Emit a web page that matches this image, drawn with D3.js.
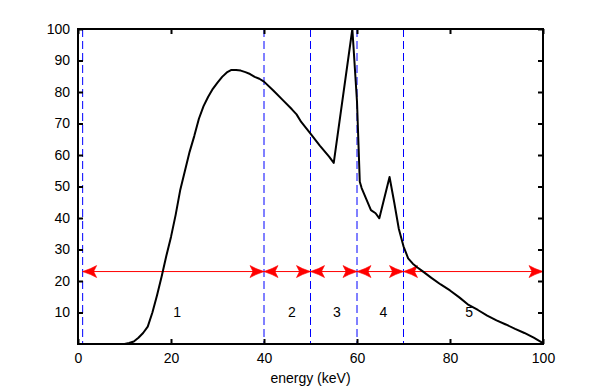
<!DOCTYPE html>
<html>
<head>
<meta charset="utf-8">
<script src="https://cdn.jsdelivr.net/npm/d3@7"></script>
<style>
  body { margin: 0; background: #fff; }
  text { font-family: "Liberation Sans", Arial, sans-serif; font-size: 14px; fill: #000; }
</style>
</head>
<body>
<div id="chart"></div>
<script>
// spectrum
const energy = [10, 11, 12, 13, 14, 15, 16, 17, 18, 19, 20, 21, 22, 23, 24, 25, 26, 27, 28, 29,
  30, 31, 32, 33, 34, 35, 36, 37, 38, 39, 40, 42, 44, 46, 47, 48, 50, 52, 54, 55,
  59, 60, 60.6, 61, 62, 63, 64, 64.8, 67, 68, 69, 70, 71, 72, 73, 74, 76, 78, 80, 82,
  84, 86, 88, 90, 92, 94, 96, 98, 100];
const intensity = [0, 0.3, 0.8, 2, 3.5, 5.5, 10, 15.5, 21.5, 28, 34, 41, 49, 55, 61, 66, 71.5, 75.5, 78.5, 81,
  83, 84.8, 86.2, 87, 87, 86.8, 86.3, 85.7, 84.8, 84.2, 83.3, 80.5, 77.5, 74.5, 72.9, 70.5, 66.8, 63, 59.5, 57.5,
  100, 77, 51.5, 49.5, 46, 42.5, 41.5, 39.9, 53, 45, 36.5, 31, 27.2, 25.5, 24.3, 23.2, 21, 18.9, 17, 14.8,
  12.4, 10.8, 9, 7.5, 6.2, 4.8, 3.5, 2, 0.3];

// region boundaries and labels
const boundaries = [1, 40, 50, 60, 70];
const segments = [[1, 40], [40, 50], [50, 60], [60, 70], [70, 100]];
const arrowLevel = 23;
const regionLabels = ["1", "2", "3", "4", "5"];
const labelX = [21.3, 46, 55.7, 65.7, 84.1];
const labelY = 10;

const xTicks = [0, 20, 40, 60, 80, 100];
const yTicks = [10, 20, 30, 40, 50, 60, 70, 80, 90, 100];

const width = 600;
const height = 388;
const margin = { top: 29, right: 57, bottom: 44, left: 78 };

const svg = d3.select('#chart')
  .append('svg')
  .attr('width', width)
  .attr('height', height);

const x = d3.scaleLinear().domain([0, 100]).range([margin.left, width - margin.right]);
const y = d3.scaleLinear().domain([0, 100]).range([height - margin.bottom, margin.top]);

const arrowPath = 'M0,0 L-8,-3 L-14,-6 L-11,0 L-14,6 L-8,3 Z';
const defs = svg.append('defs');
defs.append('marker')
  .attr('id', 'head')
  .attr('markerUnits', 'userSpaceOnUse')
  .attr('viewBox', '-15 -7 16 14')
  .attr('refX', 0).attr('refY', 0)
  .attr('markerWidth', 16).attr('markerHeight', 14)
  .attr('orient', 'auto-start-reverse')
  .append('path')
  .attr('d', arrowPath)
  .attr('fill', '#ff0000')
  .attr('stroke', '#ff0000')
  .attr('stroke-width', 0.6);

// dashed region boundaries
svg.selectAll('.bound')
  .data(boundaries)
  .enter().append('line')
  .attr('class', 'bound')
  .attr('x1', d => x(d)).attr('x2', d => x(d))
  .attr('y1', y(100)).attr('y2', y(0))
  .attr('stroke', '#0000ff')
  .attr('stroke-width', 1)
  .attr('stroke-dasharray', '8,4');

// double arrows
svg.selectAll('.arrow')
  .data(segments)
  .enter().append('line')
  .attr('class', 'arrow')
  .attr('x1', d => x(d[0])).attr('x2', d => x(d[1]))
  .attr('y1', y(arrowLevel)).attr('y2', y(arrowLevel))
  .attr('stroke', '#ff0000')
  .attr('stroke-width', 1)
  .attr('marker-start', 'url(#head)')
  .attr('marker-end', 'url(#head)');

// spectrum line
const line = d3.line()
  .x((d, i) => x(energy[i]))
  .y(d => y(d));

svg.append('path')
  .datum(intensity)
  .attr('fill', 'none')
  .attr('stroke', '#000')
  .attr('stroke-width', 2)
  .attr('stroke-linejoin', 'round')
  .attr('d', line);

// region numbers
svg.selectAll('.region')
  .data(regionLabels)
  .enter().append('text')
  .attr('class', 'region')
  .attr('x', (d, i) => x(labelX[i]))
  .attr('y', y(labelY))
  .attr('dy', '0.35em')
  .attr('text-anchor', 'middle')
  .text(d => d);

// axes, ticks pointing inward
const axisStyle = g => {
  g.select('.domain').remove();
  g.selectAll('.tick line').attr('stroke', '#000').attr('stroke-width', 2);
  g.selectAll('.tick text').attr('font-size', 14).attr('font-family', '"Liberation Sans", Arial, sans-serif').attr('fill', '#000');
};

svg.append('g')
  .attr('transform', `translate(0,${y(0)})`)
  .call(d3.axisBottom(x).tickValues(xTicks).tickSizeInner(-5).tickSizeOuter(0).tickPadding(9).tickFormat(d3.format('d')))
  .call(axisStyle);

svg.append('g')
  .attr('transform', `translate(0,${y(100)})`)
  .call(d3.axisTop(x).tickValues(xTicks).tickSizeInner(-5).tickSizeOuter(0).tickFormat(''))
  .call(axisStyle);

svg.append('g')
  .attr('transform', `translate(${x(0)},0)`)
  .call(d3.axisLeft(y).tickValues(yTicks).tickSizeInner(-5).tickSizeOuter(0).tickPadding(8).tickFormat(d3.format('d')))
  .call(axisStyle);

svg.append('g')
  .attr('transform', `translate(${x(100)},0)`)
  .call(d3.axisRight(y).tickValues(yTicks).tickSizeInner(-5).tickSizeOuter(0).tickFormat(''))
  .call(axisStyle);

// frame
svg.append('rect')
  .attr('x', x(0)).attr('y', y(100))
  .attr('width', x(100) - x(0))
  .attr('height', y(0) - y(100))
  .attr('fill', 'none')
  .attr('stroke', '#000')
  .attr('stroke-width', 2);

svg.append('text')
  .attr('x', (x(0) + x(100)) / 2)
  .attr('y', 383)
  .attr('text-anchor', 'middle')
  .text('energy (keV)');
</script>
</body>
</html>
